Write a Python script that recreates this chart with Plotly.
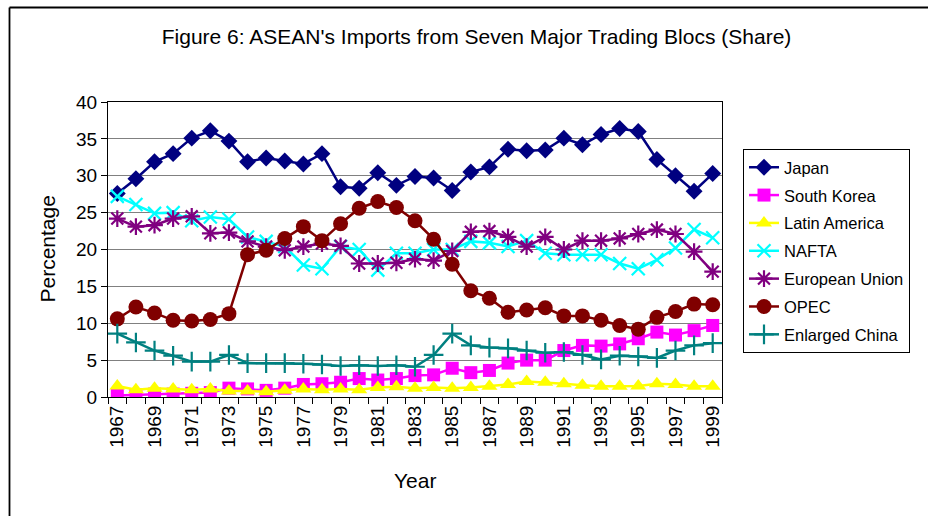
import plotly.graph_objects as go

years = list(range(1967, 2000))

japan = [27.6, 29.6, 31.9, 33.0, 35.1, 36.1, 34.7, 31.9, 32.4, 32.0, 31.6, 33.0, 28.5, 28.3, 30.4, 28.7,
         29.9, 29.7, 28.0, 30.5, 31.2, 33.6, 33.4, 33.5, 35.1, 34.2, 35.6, 36.4, 36.0, 32.2, 30.0, 27.9, 30.3]
south_korea = [0.2, 0.3, 0.4, 0.4, 0.5, 0.6, 1.2, 1.1, 0.9, 1.2, 1.7, 1.8, 2.0, 2.5, 2.3, 2.5,
               2.9, 3.0, 3.9, 3.3, 3.6, 4.6, 5.0, 5.0, 6.3, 7.0, 6.9, 7.2, 7.9, 8.8, 8.4, 9.0, 9.7]
latin_america = [1.5, 1.0, 1.2, 1.1, 1.0, 1.1, 0.8, 0.8, 0.7, 0.9, 1.1, 1.0, 1.1, 1.0, 1.3, 1.4,
                 1.2, 1.3, 1.2, 1.3, 1.45, 1.7, 2.1, 2.0, 1.8, 1.6, 1.45, 1.45, 1.5, 1.8, 1.7, 1.45, 1.45]
nafta = [27.2, 26.1, 24.9, 25.0, 23.9, 24.4, 24.1, 21.7, 21.1, 20.4, 17.9, 17.4, 20.4, 20.0, 17.2, 19.5,
         19.5, 20.0, 20.0, 21.1, 20.9, 20.4, 21.2, 19.5, 19.3, 19.3, 19.3, 18.1, 17.4, 18.6, 20.2, 22.7, 21.6]
eu = [24.2, 23.1, 23.3, 24.2, 24.5, 22.2, 22.3, 21.1, 20.4, 19.9, 20.4, 20.8, 20.5, 18.1, 18.1, 18.2,
      18.7, 18.5, 19.8, 22.4, 22.5, 21.7, 20.4, 21.7, 20.0, 21.2, 21.2, 21.5, 22.1, 22.7, 22.1, 19.7, 17.0]
opec = [10.6, 12.2, 11.4, 10.4, 10.3, 10.5, 11.3, 19.3, 19.9, 21.5, 23.1, 21.2, 23.5, 25.6, 26.5, 25.7,
        23.9, 21.4, 18.0, 14.4, 13.4, 11.5, 11.8, 12.1, 11.0, 11.0, 10.4, 9.7, 9.2, 10.8, 11.6, 12.6, 12.5]
china = [8.6, 7.4, 6.3, 5.6, 4.8, 4.8, 5.7, 4.6, 4.6, 4.6, 4.5, 4.4, 4.2, 4.3, 4.2, 4.3,
         4.1, 5.7, 8.6, 7.0, 6.7, 6.6, 6.3, 6.0, 6.1, 5.7, 5.1, 5.6, 5.5, 5.3, 6.3, 7.0, 7.3]

tick_years = list(range(1967, 2000, 2))
tick_labels = [str(y) for y in tick_years]

series = [
    ("Japan", japan, "#000080", "diamond", 13, 0),
    ("South Korea", south_korea, "#FF00FF", "square", 13, 0),
    ("Latin America", latin_america, "#FFFF00", "triangle-up", 14, 0),
    ("NAFTA", nafta, "#00FFFF", "x-thin-open", 13, 2.2),
    ("European Union", eu, "#800080", "asterisk-open", 14, 2.2),
    ("OPEC", opec, "#800000", "circle", 15, 0),
    ("Enlarged China", china, "#008080", "cross-thin-open", 14, 2.2),
]

fig = go.Figure()
for name, vals, color, sym, size, lw in series:
    fig.add_trace(go.Scatter(
        x=years, y=vals, name=name, mode="lines+markers",
        line=dict(color=color, width=2.5),
        marker=dict(symbol=sym, size=size, color=color, line=dict(color=color, width=lw)),
        legendgroup=name,
    ))

FONT = "Liberation Sans, Arial, sans-serif"
PLOT_H = 295.0
PLOT_W = 614.0

def px_x(p):
    return (p - 108) / PLOT_W

def px_y(p):
    return (397 - p) / PLOT_H

fig.update_layout(
    width=928, height=516,
    margin=dict(l=108, r=206, t=102, b=119),
    paper_bgcolor="white", plot_bgcolor="white",
    font=dict(family=FONT, color="black", size=19),
    title=dict(text="Figure 6: ASEAN's Imports from Seven Major Trading Blocs (Share)",
               x=0.5135, xref="container", xanchor="center",
               y=1 - 37 / 516, yref="container", yanchor="middle",
               font=dict(family=FONT, size=21, color="black")),
    showlegend=True,
    legend=dict(x=px_x(743), xanchor="left", y=px_y(149), yanchor="top",
                bordercolor="black", borderwidth=1, bgcolor="white",
                font=dict(family=FONT, size=16.5, color="black"),
                tracegroupgap=3.4, traceorder="grouped"),
    xaxis=dict(range=[1966.5, 1999.5], tickvals=tick_years, ticktext=tick_labels,
               tickangle=-90, ticks="", showgrid=False, zeroline=False,
               showline=True, linecolor="black", linewidth=1, mirror=True,
               tickfont=dict(family=FONT, size=19),
               minor=dict(tick0=1966.5, dtick=1, ticks="outside", ticklen=6,
                          tickcolor="black", showgrid=False)),
    yaxis=dict(range=[0, 40], dtick=5, ticks="outside", ticklen=6, tickcolor="black",
               showgrid=True, gridcolor="#808080", gridwidth=1, zeroline=False,
               showline=True, linecolor="black", linewidth=1, mirror=True,
               tickfont=dict(family=FONT, size=19)),
    shapes=[
        dict(type="line", xref="paper", yref="paper",
             x0=px_x(9.5), x1=px_x(940), y0=px_y(7.5), y1=px_y(7.5),
             line=dict(color="black", width=1.8), layer="above"),
        dict(type="line", xref="paper", yref="paper",
             x0=px_x(9.5), x1=px_x(9.5), y0=px_y(7.5), y1=px_y(530),
             line=dict(color="black", width=1.8), layer="above"),
    ],
    annotations=[
        dict(text="Percentage", xref="paper", yref="paper", x=px_x(47), y=0.5,
             textangle=-90, showarrow=False, font=dict(family=FONT, size=21),
             xanchor="center", yanchor="middle"),
        dict(text="Year", xref="paper", yref="paper", x=0.5, y=px_y(480),
             showarrow=False, font=dict(family=FONT, size=21),
             xanchor="center", yanchor="middle"),
    ],
)

fig.write_html("out.html", config={"displayModeBar": False},
               post_script="document.body.style.margin='0px';document.body.style.overflow='hidden';")
